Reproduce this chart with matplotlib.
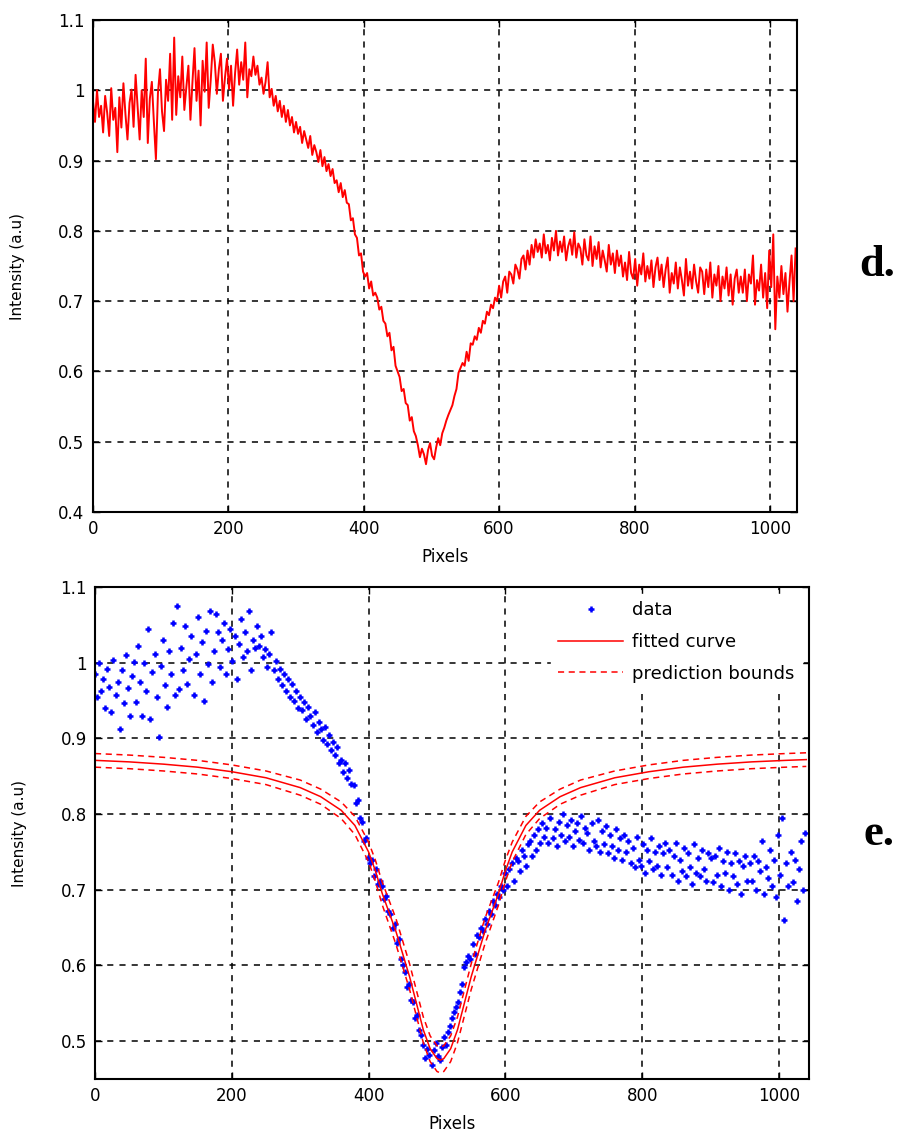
import numpy as np
from matplotlib import pyplot as plt

# pixel positions of the profile (one sample every 3 pixels)
pixels = np.arange(0, 1041, 3)

# measured intensity profile, in thousandths of a.u.
intensity_k = [
    985, 955, 1000, 962, 978, 940, 992, 968, 935, 1003, 958, 975, 912, 990, 947, 1010, 966, 930, 982, 1001,
    948, 1022, 975, 930, 1000, 962, 1045, 925, 988, 1012, 955, 902, 996, 1030, 970, 942, 1015, 985, 1052, 958,
    1075, 965, 1020, 990, 1048, 972, 1005, 1035, 958, 1012, 1060, 985, 1028, 950, 1042, 998, 1068, 975, 1015, 1065,
    1040, 995, 1030, 1052, 985, 1018, 1045, 1002, 1035, 978, 1025, 1058, 1008, 1040, 1015, 1068, 990, 1030, 1020, 1048,
    1022, 1035, 1008, 1018, 995, 1012, 1040, 990, 1002, 978, 992, 970, 985, 962, 978, 955, 972, 950, 962, 940,
    955, 938, 948, 925, 942, 930, 918, 935, 908, 922, 912, 898, 915, 892, 905, 885, 895, 878, 888, 868,
    872, 855, 868, 848, 858, 840, 838, 815, 818, 795, 790, 765, 768, 742, 735, 740, 718, 728, 708, 712,
    705, 688, 692, 672, 668, 650, 655, 630, 635, 608, 600, 592, 572, 575, 555, 552, 530, 535, 515, 508,
    495, 478, 490, 482, 468, 488, 498, 480, 475, 492, 505, 495, 512, 520, 530, 538, 545, 552, 565, 575,
    598, 605, 612, 608, 628, 615, 640, 638, 650, 645, 662, 655, 672, 668, 685, 680, 695, 690, 705, 700,
    722, 705, 728, 735, 712, 742, 738, 725, 752, 745, 732, 760, 765, 745, 772, 752, 780, 762, 788, 770,
    782, 762, 795, 768, 780, 758, 790, 772, 800, 765, 785, 770, 792, 758, 778, 788, 766, 798, 762, 782,
    775, 752, 788, 765, 758, 792, 750, 778, 760, 784, 748, 772, 758, 742, 780, 752, 768, 740, 772, 750,
    765, 735, 755, 730, 770, 740, 732, 760, 722, 752, 738, 768, 728, 750, 732, 758, 720, 748, 762, 730,
    752, 720, 745, 762, 712, 740, 725, 755, 718, 748, 730, 708, 760, 722, 742, 718, 752, 728, 712, 748,
    742, 710, 745, 720, 755, 705, 738, 722, 750, 700, 735, 718, 748, 708, 738, 695, 732, 745, 712, 735,
    712, 745, 700, 738, 725, 765, 695, 730, 715, 752, 705, 740, 690, 772, 720, 795, 660, 735, 705, 750,
    710, 740, 685, 728, 765, 700, 775,
]
intensity = np.array(intensity_k) / 1000.0

# fitted curve and prediction bounds
fit_x = [0, 50, 100, 150, 200, 250, 300, 330, 360, 380,
         400, 410, 420, 430, 440, 450, 460, 470, 480, 490,
         500, 505, 510, 520, 530, 540, 550, 560, 570, 580,
         590, 600, 610, 630, 650, 680, 710, 760, 810, 860,
         910, 960, 1010, 1040]
fit_y = [0.871, 0.869, 0.866, 0.862, 0.856, 0.848, 0.835, 0.823, 0.805, 0.785,
         0.750, 0.725, 0.695, 0.670, 0.645, 0.615, 0.585, 0.550, 0.515, 0.490,
         0.477, 0.475, 0.477, 0.490, 0.515, 0.550, 0.585, 0.615, 0.645, 0.670,
         0.695, 0.725, 0.750, 0.785, 0.805, 0.823, 0.835, 0.848, 0.856, 0.862,
         0.866, 0.869, 0.871, 0.872]
bound_hi = [0.880, 0.878, 0.875, 0.871, 0.865, 0.857, 0.845, 0.833, 0.816, 0.797,
            0.763, 0.739, 0.710, 0.686, 0.662, 0.632, 0.602, 0.567, 0.532, 0.507,
            0.494, 0.492, 0.494, 0.507, 0.532, 0.567, 0.602, 0.632, 0.662, 0.686,
            0.710, 0.739, 0.763, 0.797, 0.816, 0.833, 0.845, 0.857, 0.865, 0.871,
            0.875, 0.878, 0.880, 0.881]
bound_lo = [0.862, 0.860, 0.857, 0.853, 0.847, 0.839, 0.825, 0.813, 0.794, 0.773,
            0.737, 0.711, 0.680, 0.654, 0.628, 0.598, 0.568, 0.533, 0.498, 0.473,
            0.460, 0.458, 0.460, 0.473, 0.498, 0.533, 0.568, 0.598, 0.628, 0.654,
            0.680, 0.711, 0.737, 0.773, 0.794, 0.813, 0.825, 0.839, 0.847, 0.853,
            0.857, 0.860, 0.862, 0.863]

x_ticks = [0, 200, 400, 600, 800, 1000]

plt.rcParams['font.family'] = ['DejaVu Sans']
fig = plt.figure(figsize=(8.99, 11.37), dpi=100)


def style_axes(ax):
    ax.grid(True, color='black', linestyle=(0, (4, 4)), linewidth=1.1)
    ax.set_axisbelow(True)
    ax.tick_params(direction='in', length=5, width=1, top=True, right=True,
                   labelsize=12, pad=6)
    for s in ax.spines.values():
        s.set_linewidth(1.5)
    ax.set_xticks(x_ticks)
    ax.set_xlabel('Pixels', fontsize=12, labelpad=7)
    ax.set_ylabel('Intensity (a.u)', fontsize=11, labelpad=24)


# panel d
ax1 = fig.add_axes([0.1034, 0.5497, 0.7831, 0.4327])
ax1.plot(pixels, intensity, color='red', linewidth=1.4)
ax1.set_xlim(0, 1040)
ax1.set_ylim(0.4, 1.1)
ax1.set_yticks([0.4, 0.5, 0.6, 0.7, 0.8, 0.9, 1.0, 1.1])
ax1.set_yticklabels(['0.4', '0.5', '0.6', '0.7', '0.8', '0.9', '1', '1.1'])
style_axes(ax1)
fig.text(0.976, 0.757, 'd.', fontsize=32, family='Liberation Serif',
         fontweight='bold', ha='center', va='baseline')

# panel e
ax2 = fig.add_axes([0.1057, 0.0510, 0.7942, 0.4327])
ax2.plot(pixels, intensity, linestyle='none', marker='+', markersize=5,
         markeredgewidth=1.8, color='blue', label='data')
ax2.plot(fit_x, fit_y, color='red', linewidth=1.1, label='fitted curve')
ax2.plot(fit_x, bound_hi, color='red', linewidth=1.1, linestyle=(0, (4, 3)),
         label='prediction bounds')
ax2.plot(fit_x, bound_lo, color='red', linewidth=1.1, linestyle=(0, (4, 3)))
ax2.set_xlim(0, 1044)
ax2.set_ylim(0.45, 1.1)
ax2.set_yticks([0.5, 0.6, 0.7, 0.8, 0.9, 1.0, 1.1])
ax2.set_yticklabels(['0.5', '0.6', '0.7', '0.8', '0.9', '1', '1.1'])
style_axes(ax2)
leg = ax2.legend(loc='upper right', fontsize=13, handlelength=3.6,
                 handletextpad=0.5, borderaxespad=0.4, labelspacing=0.75,
                 fancybox=False, framealpha=1.0, edgecolor='white')
fig.text(0.978, 0.257, 'e.', fontsize=32, family='Liberation Serif',
         fontweight='bold', ha='center', va='baseline')

fig.savefig('out.png', dpi=100)
